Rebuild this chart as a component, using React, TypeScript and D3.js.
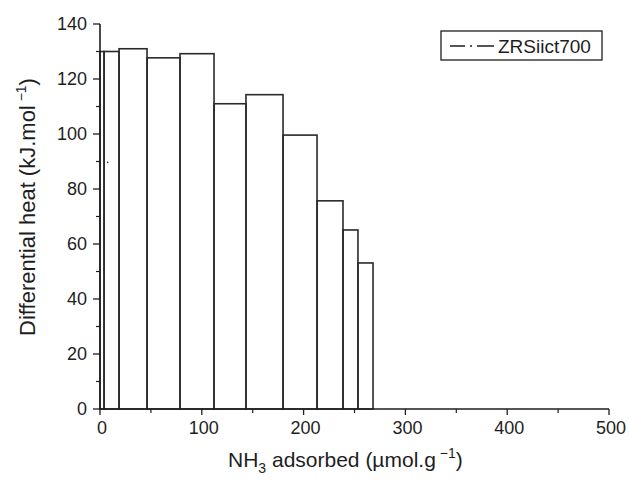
import React from "react";
import * as d3 from "d3";

// bar edges (µmol/g) and differential heats (kJ/mol)
const edges = [0, 4, 18.7, 46.2, 78.6, 112, 143.4, 179.8, 213.2, 238.7, 253.4, 268.2];
const heats = [130, 130, 131, 127.7, 129.2, 111, 114.3, 99.6, 75.7, 65.1, 53.1];
const strayPoints = [[7.5, 89.7]];
const xTicks = [0, 100, 200, 300, 400, 500];
const xMinor = [50, 150, 250, 350, 450];
const yTicks = [0, 20, 40, 60, 80, 100, 120, 140];
const yMinor = [10, 30, 50, 70, 90, 110, 130];
const seriesName = "ZRSiict700";

const W = 629;
const H = 480;

const App = () => {
  const x = d3.scaleLinear().domain([0, 500]).range([100, 609]);
  const y = d3.scaleLinear().domain([0, 140]).range([409, 24]);
  const font = "Liberation Sans, Arial, sans-serif";
  const ink = "#1e1e1e";

  const bars = heats.map((h, i) => ({ x0: edges[i], x1: edges[i + 1], h }));

  return (
    <svg width={W} height={H} style={{ position: "absolute", left: 0, top: 0 }} fontFamily={font}>
      <rect width={W} height={H} fill="#fff" />

      {/* bars */}
      {bars.map((b, i) => (
        <rect
          key={i}
          x={x(b.x0)}
          y={y(b.h)}
          width={x(b.x1) - x(b.x0)}
          height={y(0) - y(b.h)}
          fill="none"
          stroke="#2a2a2a"
          strokeWidth={1.6}
        />
      ))}
      {strayPoints.map((p, i) => (
        <circle key={i} cx={x(p[0])} cy={y(p[1])} r={0.8} fill={ink} />
      ))}

      {/* axes */}
      <line x1={x(0)} x2={x(0)} y1={y(140)} y2={y(0)} stroke={ink} strokeWidth={1.6} />
      <line x1={x(0) - 1} x2={x(500)} y1={y(0)} y2={y(0)} stroke={ink} strokeWidth={1.6} />

      {yTicks.map((t) => (
        <g key={t}>
          <line x1={x(0) - 7} x2={x(0)} y1={y(t)} y2={y(t)} stroke={ink} strokeWidth={1.3} />
          <text x={x(0) - 13} y={y(t)} dy="0.36em" textAnchor="end" fontSize={18} fill={ink}>
            {t}
          </text>
        </g>
      ))}
      {yMinor.map((t) => (
        <line key={t} x1={x(0) - 4} x2={x(0)} y1={y(t)} y2={y(t)} stroke={ink} strokeWidth={1.2} />
      ))}
      {xTicks.map((t) => (
        <g key={t}>
          <line x1={x(t)} x2={x(t)} y1={y(0)} y2={y(0) + 6} stroke={ink} strokeWidth={1.3} />
          <text x={x(t) + 2} y={y(0) + 25} textAnchor="middle" fontSize={18} fill={ink}>
            {t}
          </text>
        </g>
      ))}
      {xMinor.map((t) => (
        <line key={t} x1={x(t)} x2={x(t)} y1={y(0)} y2={y(0) + 4} stroke={ink} strokeWidth={1.2} />
      ))}

      {/* axis titles */}
      <text x={228} y={467} fontSize={21} fill={ink}>
        NH<tspan dy={6} fontSize={14}>3</tspan>
        <tspan dy={-6}> adsorbed (µmol.g</tspan>
        <tspan dy={-9} fontSize={14}> −1</tspan>
        <tspan dy={9}>)</tspan>
      </text>
      <text transform={`translate(35,207) rotate(-90)`} textAnchor="middle" fontSize={22} fill={ink}>
        Differential heat (kJ.mol
        <tspan dy={-9} fontSize={14}> −1</tspan>
        <tspan dy={9}>)</tspan>
      </text>

      {/* legend */}
      <rect x={441} y={31} width={161} height={29} fill="none" stroke={ink} strokeWidth={1.3} />
      <line x1={450} x2={494} y1={46} y2={46} stroke={ink} strokeWidth={1.3} strokeDasharray="15,5,2,5,17" />
      <text x={498} y={46} dy="0.36em" fontSize={19} fill={ink}>
        {seriesName}
      </text>
    </svg>
  );
};

export default App;
